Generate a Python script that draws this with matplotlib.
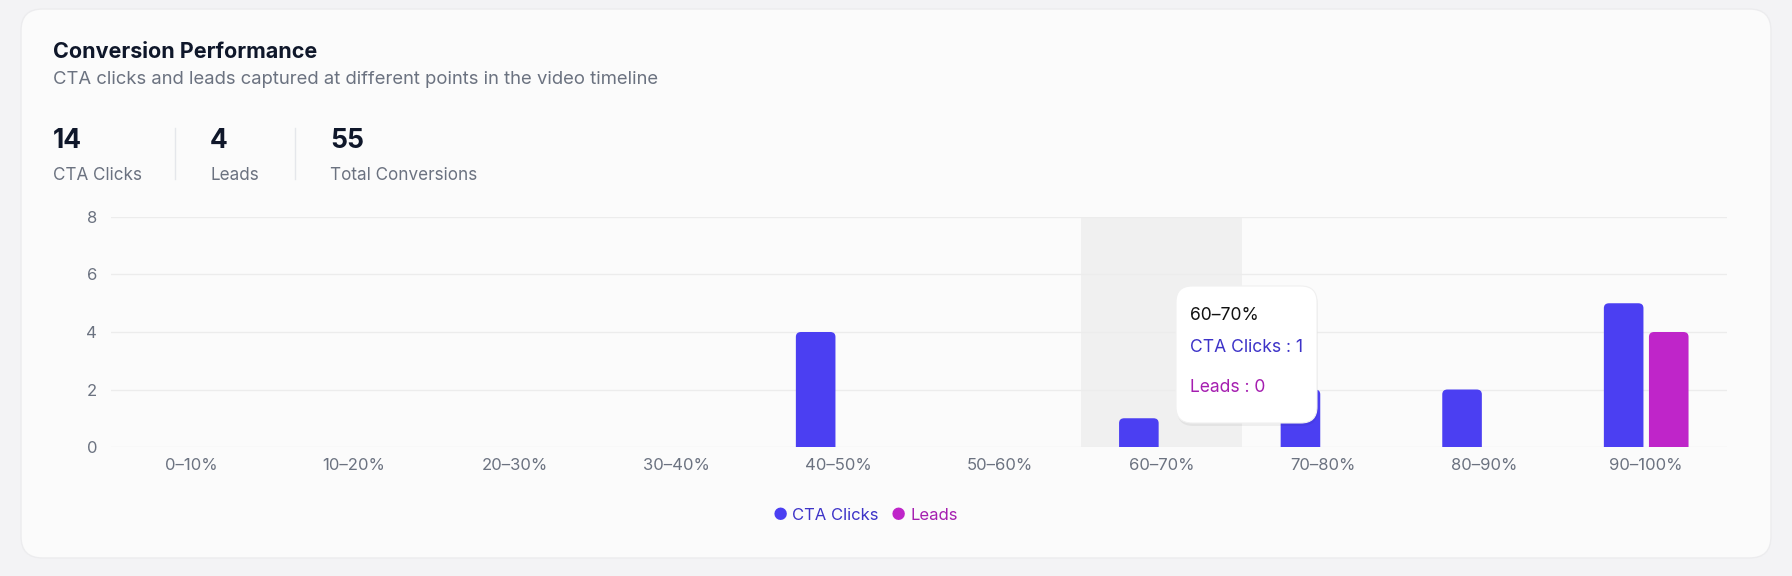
import numpy as np
import matplotlib
matplotlib.use("Agg")
import matplotlib.pyplot as plt
from matplotlib.patches import FancyBboxPatch
from matplotlib.lines import Line2D

plt.rcParams['font.family'] = ['Inter', 'DejaVu Sans']

# data
segments = ['0–10%', '10–20%', '20–30%', '30–40%', '40–50%',
            '50–60%', '60–70%', '70–80%', '80–90%', '90–100%']
cta_clicks = [0, 0, 0, 0, 4, 0, 1, 2, 2, 5]
leads = [0, 0, 0, 0, 0, 0, 0, 0, 0, 4]
stat_values = ['14', '4', '55']
stat_labels = ['CTA Clicks', 'Leads', 'Total Conversions']
y_ticks = [0, 2, 4, 6, 8]
hover_idx = 6

BLUE = '#4b3ff2'
MAGENTA = '#bf25c9'
BLUE_TXT = '#3d33c8'
MAG_TXT = '#a51eb0'
W, H = 1792, 576

fig = plt.figure(figsize=(W / 100, H / 100), dpi=100)
fig.patch.set_facecolor('#f3f3f5')


def px(x, y):
    # pixel coords from top-left -> figure fraction
    return x / W, 1 - y / H


# card
card = FancyBboxPatch(px(21, 558), 1750 / W, 549 / H,
                      boxstyle="round,pad=0,rounding_size=0.012",
                      transform=fig.transFigure, facecolor='#fbfbfb',
                      edgecolor='#ececee', linewidth=1, mutation_aspect=W / H, zorder=-5)
fig.patches.append(card)

# header
fig.text(*px(53, 52), 'Conversion Performance', fontsize=15.5, fontweight='bold',
         color='#0f172a', va='center')
fig.text(*px(53, 80), 'CTA clicks and leads captured at different points in the video timeline',
         fontsize=13.3, color='#6b7280', va='center')

stat_x = [53, 210, 330]
for i, (v, l) in enumerate(zip(stat_values, stat_labels)):
    fig.text(*px(stat_x[i], 141), v, fontsize=19, fontweight='bold', color='#0f172a', va='center')
    fig.text(*px(stat_x[i], 175), l, fontsize=12.3, color='#6b7280', va='center')
for sx in [175, 295]:
    fig.add_artist(Line2D([sx / W, sx / W], [1 - 128 / H, 1 - 179 / H],
                          transform=fig.transFigure, color='#e5e7eb', lw=1))

# chart
ax = fig.add_axes([111 / W, 129 / H, 1616 / W, 230 / H])
ax.set_zorder(2)
ax.set_facecolor('none')
x = np.arange(len(segments))
bw = 0.245
gap = 0.017
ax.set_xlim(-0.5, len(segments) - 0.5)
ax.set_ylim(0, 8)

ax.axvspan(hover_idx - 0.5, hover_idx + 0.5, color='#f0f0f0', zorder=0, lw=0)

for yt in y_ticks:
    ax.axhline(yt, color='#ececec', lw=1, zorder=1)

r_x = 0.032
r_y = 0.17
for vals, off, col in [(cta_clicks, -(bw / 2 + gap), BLUE), (leads, bw / 2 + gap, MAGENTA)]:
    for xi, v in zip(x, vals):
        if v <= 0:
            continue
        p = FancyBboxPatch((xi + off - bw / 2, -0.5), bw, v + 0.5,
                           boxstyle=f"round,pad=0,rounding_size={r_x}",
                           mutation_aspect=r_y / r_x, facecolor=col, edgecolor='none',
                           zorder=3, clip_on=True)
        ax.add_patch(p)

for s in ax.spines.values():
    s.set_visible(False)
ax.set_yticks(y_ticks)
ax.set_xticks(x)
ax.set_xticklabels(segments)
ax.tick_params(length=0, labelsize=12, colors='#6b7280', pad=8)
ax.tick_params(axis='y', pad=10)

# legend
fig.text(*px(780, 516), '●', fontsize=12, color=BLUE, va='center', ha='center')
fig.text(*px(792, 516), 'CTA Clicks', fontsize=12, color=BLUE_TXT, va='center')
fig.text(*px(898, 516), '●', fontsize=12, color=MAGENTA, va='center', ha='center')
fig.text(*px(910, 516), 'Leads', fontsize=12, color=MAG_TXT, va='center')

# tooltip
shadow = FancyBboxPatch(px(1177, 426), 141 / W, 137 / H,
                        boxstyle="round,pad=0,rounding_size=0.009",
                        transform=fig.transFigure, facecolor='#000000', alpha=0.05,
                        edgecolor='none', mutation_aspect=W / H, zorder=9)
fig.patches.append(shadow)
tip = FancyBboxPatch(px(1176, 423), 141 / W, 137 / H,
                     boxstyle="round,pad=0,rounding_size=0.009",
                     transform=fig.transFigure, facecolor='white',
                     edgecolor='#f0f0f0', lw=0.8, mutation_aspect=W / H, zorder=10)
fig.patches.append(tip)
fig.text(*px(1190, 315), segments[hover_idx], fontsize=12.6, color='#111111', va='center', zorder=11)
fig.text(*px(1190, 348), f'CTA Clicks : {cta_clicks[hover_idx]}', fontsize=12.6, color=BLUE_TXT,
         va='center', zorder=11)
fig.text(*px(1190, 388), f'Leads : {leads[hover_idx]}', fontsize=12.6, color=MAG_TXT,
         va='center', zorder=11)

fig.savefig('out.png', dpi=100, facecolor=fig.get_facecolor())
